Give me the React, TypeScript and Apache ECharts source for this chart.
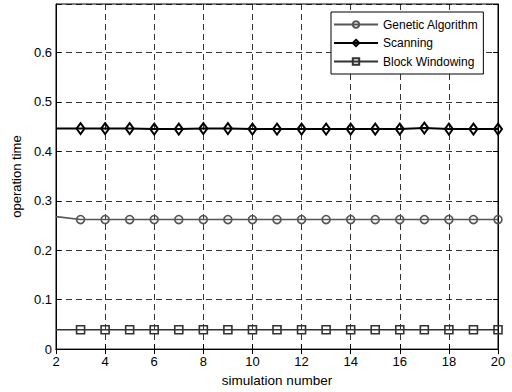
import React, { useEffect, useRef } from "react";
import * as echarts from "echarts";

// Simulation runs along the x axis
const simulationNumber = [2, 3, 4, 5, 6, 7, 8, 9, 10, 11, 12, 13, 14, 15, 16, 17, 18, 19, 20];

// Operation time per method
const geneticAlgorithm = [0.268, 0.262, 0.262, 0.262, 0.262, 0.262, 0.262, 0.262, 0.262, 0.262, 0.262, 0.262, 0.262, 0.262, 0.262, 0.262, 0.262, 0.262, 0.262];
const scanning = [0.446, 0.446, 0.446, 0.446, 0.445, 0.445, 0.446, 0.446, 0.445, 0.445, 0.445, 0.445, 0.445, 0.445, 0.445, 0.447, 0.445, 0.445, 0.445];
const blockWindowing = [0.039, 0.039, 0.039, 0.039, 0.039, 0.039, 0.039, 0.039, 0.039, 0.039, 0.039, 0.039, 0.039, 0.039, 0.039, 0.039, 0.039, 0.039, 0.039];

const seriesNames = ["Genetic Algorithm", "Scanning", "Block Windowing"];
const yTicks = [0, 0.1, 0.2, 0.3, 0.4, 0.5, 0.6];

const FONT = "'Liberation Sans', Arial, Helvetica, sans-serif";

// The first run has no marker, only the line segment
function points(values: number[]) {
  return values.map((v, i) =>
    i === 0
      ? { value: [simulationNumber[i], v], symbol: "none" }
      : { value: [simulationNumber[i], v] }
  );
}

export default function App() {
  const ref = useRef<HTMLDivElement>(null);

  useEffect(() => {
    if (!ref.current) return;
    const chart = echarts.init(ref.current, null, { renderer: "svg" });

    const dashed = { show: true, lineStyle: { color: "#000", type: [6, 4], width: 0.8 } };
    const inTick = { show: true, inside: true, length: 5, lineStyle: { color: "#000" } };

    chart.setOption({
      animation: false,
      backgroundColor: "#fff",
      textStyle: { fontFamily: FONT },
      grid: {
        left: 56,
        right: 14,
        top: 4,
        bottom: 39,
        show: true,
        borderColor: "#000",
        borderWidth: 1,
        backgroundColor: "transparent",
      },
      legend: {
        orient: "vertical",
        left: 331,
        top: 12,
        itemWidth: 44,
        itemHeight: 8,
        itemGap: 6.5,
        padding: [6.5, 5, 6.5, 2],
        borderColor: "#000",
        borderWidth: 1,
        backgroundColor: "#fff",
        data: seriesNames,
        textStyle: { fontSize: 12, color: "#000", fontFamily: FONT },
      },
      xAxis: [
        {
          type: "value",
          min: 2,
          max: 20,
          interval: 2,
          name: "simulation number",
          nameLocation: "middle",
          nameGap: 22,
          nameTextStyle: { fontSize: 13.5, color: "#000", fontFamily: FONT },
          axisLine: { show: true, lineStyle: { color: "#000", width: 1 } },
          axisTick: inTick,
          axisLabel: { color: "#000", fontSize: 13, margin: 6, fontFamily: FONT },
          splitLine: dashed,
        },
        {
          type: "value",
          position: "top",
          min: 2,
          max: 20,
          interval: 2,
          axisLine: { show: true, lineStyle: { color: "#000", width: 1 } },
          axisTick: inTick,
          axisLabel: { show: false },
          splitLine: { show: false },
        },
      ],
      yAxis: [
        {
          type: "value",
          min: 0,
          max: 0.698,
          interval: 0.1,
          name: "operation time",
          nameLocation: "middle",
          nameGap: 29,
          nameTextStyle: { fontSize: 13, color: "#000", fontFamily: FONT },
          axisLine: { show: true, lineStyle: { color: "#000", width: 1 } },
          axisTick: inTick,
          axisLabel: {
            color: "#000",
            fontSize: 13,
            margin: 4,
            fontFamily: FONT,
            showMaxLabel: false,
            formatter: (v: number) => {
              const t = yTicks.find((y) => Math.abs(y - v) < 1e-6);
              return t === undefined ? "" : String(t);
            },
          },
          splitLine: dashed,
        },
        {
          type: "value",
          position: "right",
          min: 0,
          max: 0.698,
          interval: 0.1,
          axisLine: { show: true, lineStyle: { color: "#000", width: 1 } },
          axisTick: inTick,
          axisLabel: { show: false },
          splitLine: { show: false },
        },
      ],
      series: [
        {
          name: seriesNames[0],
          type: "line",
          data: points(geneticAlgorithm),
          symbol: "circle",
          symbolSize: 8,
          lineStyle: { color: "#555", width: 1.6 },
          itemStyle: { color: "none", borderColor: "#555", borderWidth: 1.6 },
        },
        {
          name: seriesNames[1],
          type: "line",
          data: points(scanning),
          symbol: "diamond",
          symbolSize: [8, 11],
          lineStyle: { color: "#000", width: 2 },
          itemStyle: { color: "none", borderColor: "#000", borderWidth: 2 },
        },
        {
          name: seriesNames[2],
          type: "line",
          data: points(blockWindowing),
          symbol: "rect",
          symbolSize: 8,
          lineStyle: { color: "#333", width: 1.6 },
          itemStyle: { color: "none", borderColor: "#333", borderWidth: 1.6 },
        },
      ],
    });

    return () => chart.dispose();
  }, []);

  return (
    <div
      ref={ref}
      style={{ position: "fixed", left: 0, top: 0, width: 512, height: 392 }}
    />
  );
}
